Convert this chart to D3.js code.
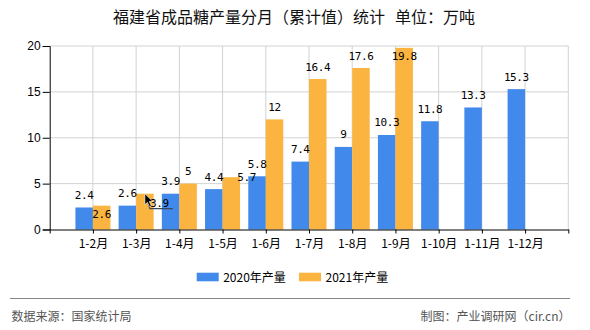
<!DOCTYPE html>
<html><head><meta charset="utf-8">
<script src="https://cdn.jsdelivr.net/npm/d3@7"></script>
<style>
html,body{margin:0;padding:0;background:#fff;}
svg{display:block;}
</style></head>
<body>
<svg id="chart" width="590" height="330"></svg>
<script>
// ---- data ----
const categories = ["1-2月","1-3月","1-4月","1-5月","1-6月","1-7月","1-8月","1-9月","1-10月","1-11月","1-12月"];
const values2020 = [2.4,2.6,3.9,4.4,5.8,7.4,9,10.3,11.8,13.3,15.3];
const values2021 = [2.6,3.9,5,5.7,12,16.4,17.6,19.8];
const seriesNames = ["2020年产量","2021年产量"];
const yTicks = [0,5,10,15,20];

// ---- layout / style (not data) ----
const colors = ["#4189EA","#FCB440"];
const pLeft = 49.7, pRight = 568.3, pTop = 46, pBottom = 229.5;
const barW = 17.5;
// manual label nudges (dx, dy) for overlapping labels, series 2021
const nudge2021 = {0:[0,21], 1:[14.5,21.5], 3:[15.3,12.2], 7:[0,20.2]};

const svg = d3.select("#chart");
const x = d3.scaleLinear().domain([0, categories.length + 1]).range([pLeft, pRight]);
const y = d3.scaleLinear().domain([0, 20]).range([pBottom, pTop]);

// title
const title = svg.append("text").attr("x", 294).attr("y", 23).attr("text-anchor","middle")
  .attr("font-family","'Noto Sans CJK SC', sans-serif").attr("font-size",16).attr("fill","#111");
title.append("tspan").text("福建省成品糖产量分月（累计值）统计");
title.append("tspan").attr("dx", 10).text("单位：万吨");

// grid
const grid = svg.append("g");
grid.selectAll("line.h").data(yTicks.filter(d=>d>0)).enter().append("line")
  .attr("x1", pLeft).attr("x2", pRight).attr("y1", d=>y(d)).attr("y2", d=>y(d))
  .attr("stroke","#d2d2d2").attr("stroke-width",1);
grid.selectAll("line.v").data(d3.range(1, categories.length + 2)).enter().append("line")
  .attr("x1", d=>x(d)).attr("x2", d=>x(d)).attr("y1", pTop).attr("y2", pBottom)
  .attr("stroke","#d2d2d2").attr("stroke-width",1);

// bars
const cx = i => x(i + 1);
svg.append("g").selectAll("rect").data(values2020).enter().append("rect")
  .attr("x", (d,i)=>cx(i)-barW).attr("width", barW)
  .attr("y", d=>y(d)).attr("height", d=>y(0)-y(d)).attr("fill", colors[0]);
svg.append("g").selectAll("rect").data(values2021).enter().append("rect")
  .attr("x", (d,i)=>cx(i)).attr("width", barW)
  .attr("y", d=>y(d)).attr("height", d=>y(0)-y(d)).attr("fill", colors[1]);

// axes
const yAxis = d3.axisLeft(y).tickValues(yTicks).tickSize(7).tickPadding(2).tickFormat(d3.format("d"));
const gy = svg.append("g").attr("transform", `translate(${pLeft},0)`).call(yAxis);
gy.select(".domain").attr("stroke","#000");
gy.selectAll(".tick line").attr("stroke","#000");
gy.selectAll(".tick text").attr("font-family","'Liberation Sans', Arial, sans-serif").attr("font-size",12).attr("fill","#000");

const xAxis = d3.axisBottom(x).tickValues(d3.range(0, categories.length + 2)).tickSize(4).tickSizeOuter(0)
  .tickFormat(d => (d >= 1 && d <= categories.length) ? categories[d-1] : "");
const gx = svg.append("g").attr("transform", `translate(0,${pBottom})`).call(xAxis);
gx.select(".domain").attr("stroke","#000");
gx.selectAll(".tick line").attr("stroke","#000");
gx.selectAll(".tick text").attr("font-family","'Noto Sans CJK SC', sans-serif").attr("font-size",12).attr("fill","#000").attr("dy","0.95em");

// value labels
const lab = svg.append("g").attr("font-family","'DejaVu Sans Mono', monospace").attr("font-size",11)
  .attr("letter-spacing","-0.4").attr("fill","#000").attr("text-anchor","middle");
lab.selectAll("text.a").data(values2020).enter().append("text")
  .attr("x", (d,i)=>cx(i)-barW/2).attr("y", d=>y(d)-8.5).text(d=>d);
lab.selectAll("text.b").data(values2021).enter().append("text")
  .attr("x", (d,i)=>cx(i)+barW/2 + (nudge2021[i]?nudge2021[i][0]:0))
  .attr("y", (d,i)=>y(d)-8.5 + (nudge2021[i]?nudge2021[i][1]:0)).text(d=>d);

// leader line + pointer for displaced label
const lx = cx(1)+barW/2, ly = y(values2021[1]);
svg.append("path").attr("d", `M${lx+1},${ly+2} L${lx+5},${ly+15} L${lx+28},${ly+15}`)
  .attr("fill","none").attr("stroke","#3a4a5a").attr("stroke-width",1.2);
svg.append("path").attr("transform", `translate(${lx},${ly})`)
  .attr("d","M0,0 L0,11 L2.6,8.6 L4.6,13 L6.4,12.2 L4.4,7.8 L8,7.8 Z")
  .attr("fill","#000").attr("stroke","#fff").attr("stroke-width",0.6);

// legend
const lg = svg.append("g").attr("font-family","'Noto Sans CJK SC', sans-serif").attr("font-size",12);
const legX = [196.7, 299];
seriesNames.forEach((n,i)=>{
  lg.append("rect").attr("x", legX[i]).attr("y", 272.7).attr("width", 22).attr("height", 8.6).attr("fill", colors[i]);
  lg.append("text").attr("x", legX[i]+26.5).attr("y", 282).attr("fill","#000").text(n);
});

// footer
svg.append("line").attr("x1",10).attr("x2",570).attr("y1",298.5).attr("y2",298.5).attr("stroke","#888").attr("stroke-width",1.2);
svg.append("text").attr("x",11.5).attr("y",321).attr("font-family","'Noto Sans CJK SC', sans-serif").attr("font-size",12)
  .attr("fill","#555").text("数据来源：国家统计局");
svg.append("text").attr("x",570.5).attr("y",321).attr("text-anchor","end").attr("font-family","'Noto Sans CJK SC', sans-serif").attr("font-size",12)
  .attr("fill","#555").text("制图：产业调研网（cir.cn）");
</script>
</body></html>
